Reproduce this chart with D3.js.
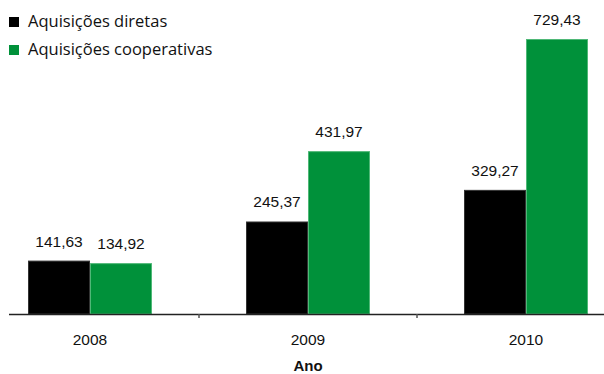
<!DOCTYPE html>
<html>
<head>
<meta charset="utf-8">
<script src="https://cdn.jsdelivr.net/npm/d3@7"></script>
<style>
  html, body { margin: 0; padding: 0; background: #fff; }
  svg { display: block; }
</style>
</head>
<body>
<svg id="chart" width="604" height="374"></svg>
<script>
// Acquisitions per year, two series
const years = ["2008", "2009", "2010"];
const series = ["Aquisições diretas", "Aquisições cooperativas"];
const diretas = [141.63, 245.37, 329.27];
const cooperativas = [134.92, 431.97, 729.43];
const colors = ["#000000", "#00913a"];
const strokes = ["#333333", "#4fb877"];
const axisTitle = "Ano";

const svg = d3.select("#chart");
const W = 604, H = 374;
const baseY = 314;
const labelFont = "Liberation Sans, Arial, sans-serif";

const x = d3.scaleBand().domain(years).range([-19, 635]);
const inner = d3.scaleBand().domain(series).range([x.bandwidth() / 2 - 62, x.bandwidth() / 2 + 62]);
const y = d3.scaleLinear().domain([0, d3.max(cooperativas)]).range([baseY, 39]);

const fmt = v => d3.format(".2f")(v).replace(".", ",");

const rows = years.map((yr, i) => ({ year: yr, values: [diretas[i], cooperativas[i]] }));

const groups = svg.selectAll("g.year").data(rows).join("g")
  .attr("class", "year")
  .attr("transform", d => `translate(${x(d.year)},0)`);

groups.selectAll("rect").data(d => d.values.map((v, k) => ({ v, k }))).join("rect")
  .attr("x", d => inner(series[d.k]) + 0.5)
  .attr("y", d => y(d.v) + 0.5)
  .attr("width", inner.bandwidth() - 1)
  .attr("height", d => baseY - y(d.v) - 0.5)
  .attr("fill", d => colors[d.k])
  .attr("stroke", d => strokes[d.k])
  .attr("stroke-width", 1);

groups.selectAll("text.val").data(d => d.values.map((v, k) => ({ v, k }))).join("text")
  .attr("class", "val")
  .attr("x", d => inner(series[d.k]) + inner.bandwidth() / 2)
  .attr("y", d => y(d.v) - 14)
  .attr("text-anchor", "middle")
  .attr("font-family", labelFont)
  .attr("font-size", 15.5)
  .attr("fill", "#111")
  .text(d => fmt(d.v));

// Category axis along the baseline
const axisG = svg.append("g");
axisG.append("line")
  .attr("x1", 9).attr("x2", W)
  .attr("y1", baseY + 0.5).attr("y2", baseY + 0.5)
  .attr("stroke", "#222").attr("stroke-width", 1.6);
const boundaries = years.slice(1).map(yr => x(yr));
axisG.selectAll("line.tick").data(boundaries).join("line")
  .attr("class", "tick")
  .attr("x1", d => d).attr("x2", d => d)
  .attr("y1", baseY).attr("y2", baseY + 4)
  .attr("stroke", "#555").attr("stroke-width", 1.5);
axisG.selectAll("text.yr").data(years).join("text")
  .attr("class", "yr")
  .attr("x", d => x(d) + x.bandwidth() / 2)
  .attr("y", 345)
  .attr("text-anchor", "middle")
  .attr("font-family", labelFont)
  .attr("font-size", 15.5)
  .attr("fill", "#111")
  .text(d => d);
svg.append("text")
  .attr("x", x("2009") + x.bandwidth() / 2)
  .attr("y", 371)
  .attr("text-anchor", "middle")
  .attr("font-family", labelFont)
  .attr("font-size", 15)
  .attr("font-weight", "bold")
  .attr("fill", "#111")
  .text(axisTitle);

// Legend
const legend = svg.append("g");
const items = legend.selectAll("g").data(series).join("g")
  .attr("transform", (d, i) => `translate(9,${17 + i * 28})`);
items.append("rect")
  .attr("width", 10).attr("height", 10)
  .attr("fill", (d, i) => colors[i]);
items.append("text")
  .attr("x", 19).attr("y", 10)
  .attr("font-family", "Open Sans, sans-serif")
  .attr("font-size", 16.5)
  .attr("fill", "#111")
  .text(d => d);
</script>
</body>
</html>
